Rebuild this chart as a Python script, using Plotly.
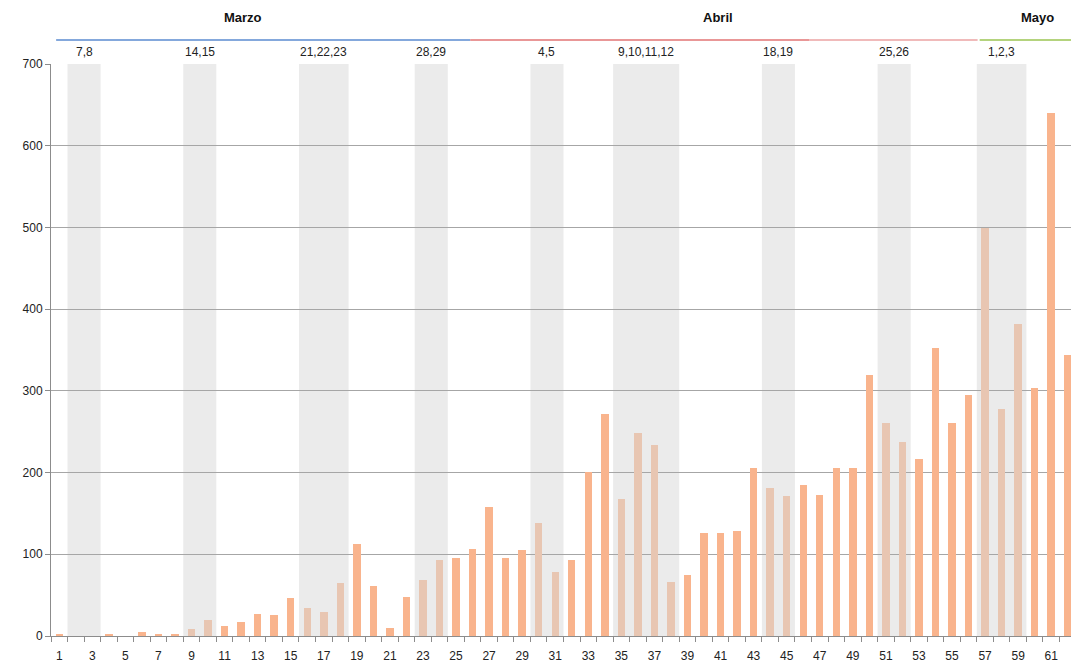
import plotly.graph_objects as go

days = list(range(1, 63))
values = [2, 0, 0, 2, 0, 5, 3, 3, 8, 20,
          12, 17, 27, 26, 46, 34, 29, 65, 112, 61,
          10, 48, 68, 93, 95, 107, 158, 95, 105, 138,
          78, 93, 201, 272, 168, 248, 234, 66, 75, 126,
          126, 128, 205, 181, 171, 185, 173, 206, 205, 319,
          261, 237, 217, 352, 261, 295, 499, 278, 382, 304,
          640, 344]

# weekend / holiday groups: (first day, last day, label)
weekend_start = [2, 9, 16, 23, 30, 35, 44, 51, 57]
weekend_end = [3, 10, 18, 24, 31, 38, 45, 52, 59]
weekend_labels = ["7,8", "14,15", "21,22,23", "28,29", "4,5",
                  "9,10,11,12", "18,19", "25,26", "1,2,3"]

months = ["Marzo", "Abril", "Mayo"]
month_label_x = [0.187, 0.651, 0.962]
month_line_x0 = [0.005, 0.409, 0.74, 0.906]
month_line_x1 = [0.409, 0.74, 0.904, 1.01]
month_line_colors = ["#5B8BD0", "#E27474", "#EBA3A3", "#9BC552"]

NORMAL = "#F9B48D"
WEEKEND = "#E8C6B2"

weekend_days = set()
for s, e in zip(weekend_start, weekend_end):
    weekend_days.update(range(s, e + 1))
colors = [WEEKEND if d in weekend_days else NORMAL for d in days]

fig = go.Figure()
fig.add_trace(go.Bar(x=days, y=values, marker=dict(color=colors, line=dict(width=0)),
                     width=0.45, hoverinfo="x+y"))

shapes = []
for s, e in zip(weekend_start, weekend_end):
    shapes.append(dict(type="rect", xref="x", yref="y", x0=s - 0.5, x1=e + 0.5, y0=0, y1=700,
                       fillcolor="#EBEBEB", line=dict(width=0), layer="below"))
for x0, x1, c in zip(month_line_x0, month_line_x1, month_line_colors):
    shapes.append(dict(type="line", xref="paper", yref="paper", x0=x0, x1=x1, y0=1.042, y1=1.042,
                       line=dict(color=c, width=1.5)))

annotations = []
for s, e, lab in zip(weekend_start, weekend_end, weekend_labels):
    annotations.append(dict(x=(s + e) / 2, y=1.021, xref="x", yref="paper", text=lab,
                            showarrow=False, font=dict(size=12, color="#222", family="Liberation Sans"),
                            xanchor="center", yanchor="middle"))
for m, mx in zip(months, month_label_x):
    annotations.append(dict(x=mx, y=1.082, xref="paper", yref="paper", text="<b>" + m + "</b>",
                            showarrow=False, font=dict(size=13, color="#111", family="Liberation Sans"),
                            xanchor="center", yanchor="middle"))

# the page body adds an 8px offset, so the figure is sized/margined to compensate
fig.update_layout(
    width=1071, height=660,
    margin=dict(l=43, r=3, t=56, b=32, autoexpand=False),
    paper_bgcolor="white", plot_bgcolor="white",
    showlegend=False,
    shapes=shapes, annotations=annotations,
    font=dict(family="Liberation Sans", size=12, color="#222"),
    bargap=0,
)
fig.update_xaxes(
    range=[0.5, 62.5], automargin=False,
    tickmode="array", tickvals=[d for d in days if d % 2 == 1],
    ticktext=[str(d) for d in days if d % 2 == 1],
    ticks="", showgrid=False, zeroline=False, ticklabelstandoff=9,
    showline=True, linecolor="#8C8C8C", linewidth=1,
    minor=dict(ticks="outside", tick0=0.5, dtick=1, ticklen=5, tickcolor="#8C8C8C", showgrid=False),
    tickfont=dict(size=12, color="#222"),
)
fig.update_yaxes(
    range=[0, 700], dtick=100, tick0=0, automargin=False,
    showgrid=True, gridcolor="#A6A6A6", gridwidth=1,
    zeroline=False, showline=True, linecolor="#8C8C8C", linewidth=1,
    ticks="outside", ticklen=5, tickcolor="#8C8C8C",
    tickfont=dict(size=12, color="#222"),
)

fig.write_html("out.html")
